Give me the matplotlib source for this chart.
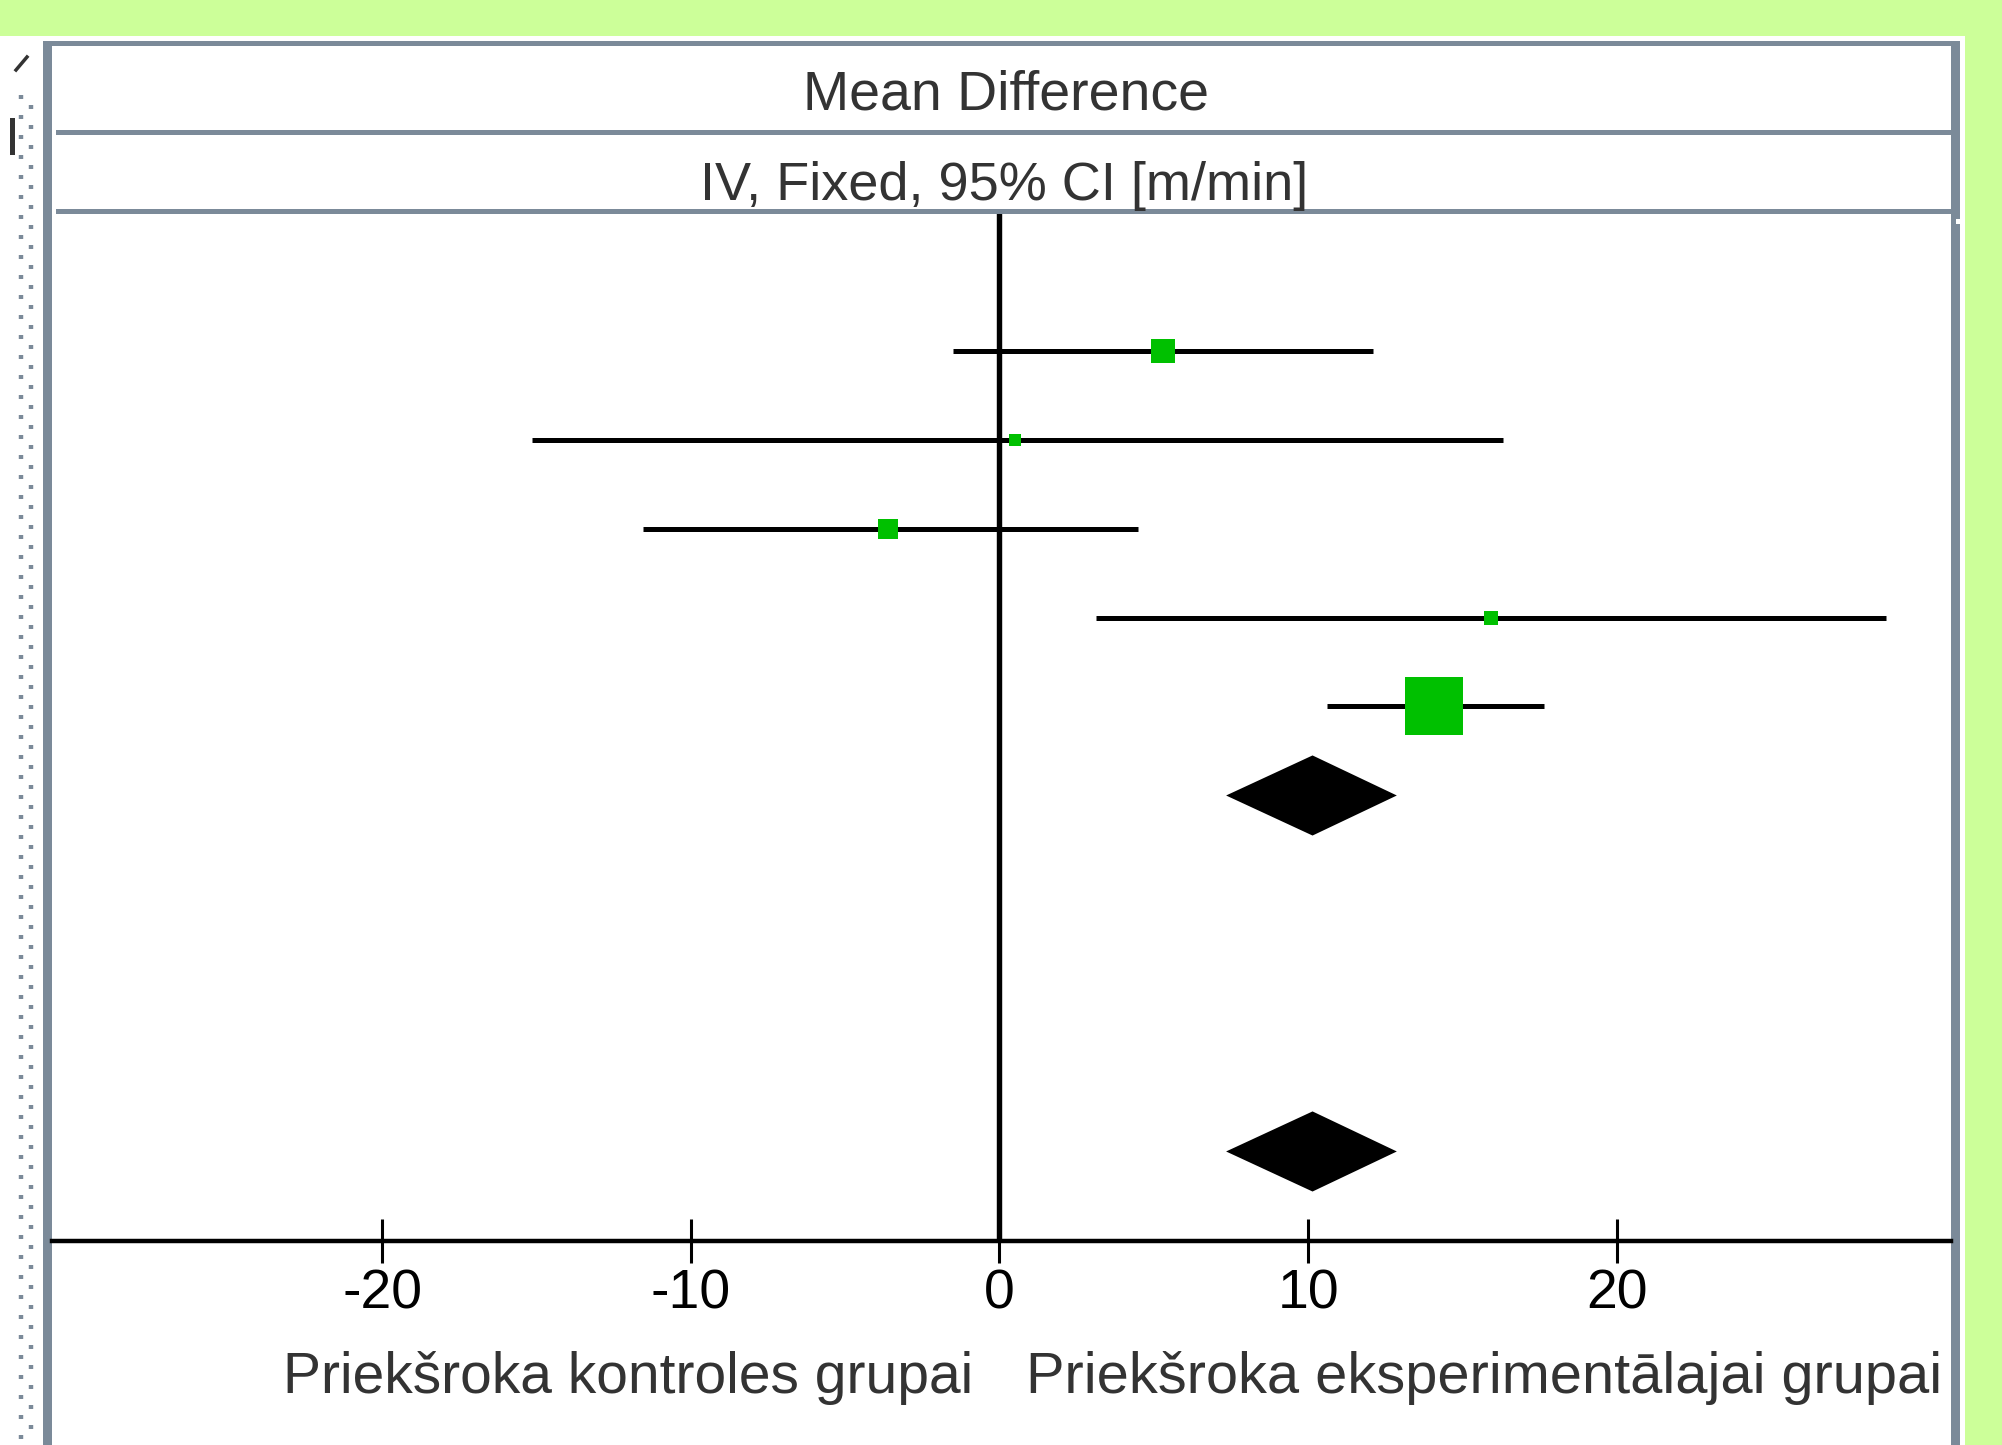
import numpy as np
import matplotlib.pyplot as plt
from matplotlib.patches import Rectangle, Polygon

# studies: mean difference with 95% CI, weight in %
md = [5.30, 0.50, -3.61, 15.92, 14.06]
ci_low = [-1.51, -15.14, -11.55, 3.13, 10.61]
ci_high = [12.10, 16.30, 4.49, 28.71, 17.64]
weights = [12.7, 3.2, 8.0, 4.6, 71.6]
study_rows = [0, 1, 2, 3, 4]

# pooled estimates (subtotal and total)
pooled_md = [10.14, 10.14]
pooled_low = [7.34, 7.34]
pooled_high = [12.87, 12.87]
pooled_rows = [5, 9]

ticks = [-20, -10, 0, 10, 20]
tick_labels = ["-20", "-10", "0", "10", "20"]
header_1 = "Mean Difference"
header_2 = "IV, Fixed, 95% CI [m/min]"
favours_left = "Priekšroka kontroles grupai"
favours_right = "Priekšroka eksperimentālajai grupai"

W, H = 2002, 1445
GREEN_BG = "#ccff99"
FRAME = "#7b8a99"
TEXT = "#333333"
BOX = "#00c000"
FONT = ["Liberation Sans", "DejaVu Sans"]

plt.rcParams["font.family"] = FONT

fig = plt.figure(figsize=(W / 100, H / 100), dpi=100, facecolor="white")

# background layer in pixel coordinates (frame, header lines, texts)
bg = fig.add_axes([0, 0, 1, 1])
bg.set_xlim(0, W)
bg.set_ylim(H, 0)
bg.axis("off")

bg.add_patch(Rectangle((0, 0), W, 36, color=GREEN_BG, lw=0))
bg.add_patch(Rectangle((1965, 36), W - 1965, H - 36, color=GREEN_BG, lw=0))
bg.add_patch(Rectangle((43, 41), 1960 - 43, 5, color=FRAME, lw=0))
bg.add_patch(Rectangle((43, 41), 9, H - 41, color=FRAME, lw=0))
bg.add_patch(Rectangle((1951, 41), 9, H - 41, color=FRAME, lw=0))
bg.add_patch(Rectangle((56, 130), 1951 - 56, 5, color=FRAME, lw=0))
bg.add_patch(Rectangle((56, 209), 1951 - 56, 5, color=FRAME, lw=0))
bg.add_patch(Rectangle((1956, 219), 4, 5, color="white", lw=0))

# dotted splitter on the far left
bg.plot([21, 21], [95, H], color=FRAME, lw=3.2, dashes=(0.9, 3.6))
bg.plot([30.5, 30.5], [105, H], color=FRAME, lw=3.2, dashes=(0.9, 3.6))
bg.plot([16, 27], [70, 57], color=TEXT, lw=2.5)
bg.text(12.5, 155, "I", ha="center", va="baseline", fontsize=39, color=TEXT)

bg.text(1006, 110, header_1, ha="center", va="baseline", fontsize=40, color=TEXT)
bg.text(1004, 200, header_2, ha="center", va="baseline", fontsize=39, color=TEXT)
bg.text(973, 1393, favours_left, ha="right", va="baseline", fontsize=41, color=TEXT)
bg.text(1026, 1393, favours_right, ha="left", va="baseline", fontsize=41.6, color=TEXT)

# forest plot
ax = fig.add_axes([52 / W, (H - 1241) / H, (1951 - 52) / W, (1241 - 214) / H])
ax.set_facecolor("none")
ax.set_xlim(-30.69, 30.82)
ax.set_ylim(10.006, -1.534)

ax.axvline(0, color="black", lw=3.9, zorder=1)
ax.hlines(study_rows, ci_low, ci_high, color="black", lw=3.6, zorder=2)
for x, r, w in zip(md, study_rows, weights):
    side = 6.74 * np.sqrt(w) / 1.389
    ax.plot(x, r, marker="s", ms=side, color=BOX, mew=0, zorder=3)

for m, lo, hi, r in zip(pooled_md, pooled_low, pooled_high, pooled_rows):
    ax.add_patch(Polygon([(lo, r), (m, r - 0.45), (hi, r), (m, r + 0.45)],
                         closed=True, color="black", lw=0, zorder=3))

for s in ["top", "left", "right"]:
    ax.spines[s].set_visible(False)
ax.spines["bottom"].set_linewidth(3.2)
ax.spines["bottom"].set_color("black")
ax.set_yticks([])
ax.set_xticks(ticks)
ax.set_xticklabels(tick_labels)
ax.tick_params(axis="x", direction="inout", length=31, width=2.2, color="black",
               labelsize=40, labelcolor="black", pad=4)

fig.savefig("out.png", dpi=100)
